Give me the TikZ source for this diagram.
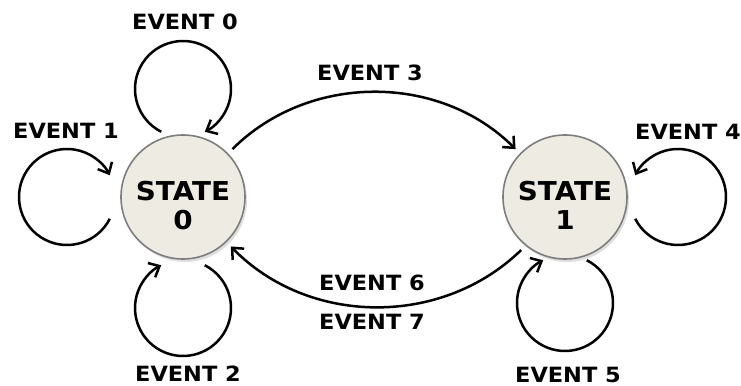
\documentclass[tikz,border=0pt]{standalone}
\usepackage{fontspec}
\setmainfont{DejaVu Sans}
\newfontfamily\ancha[FakeStretch=1.07]{DejaVu Sans}
\usepackage{tikz}
\usetikzlibrary{positioning, arrows.meta, calc, shadows}

\definecolor{relleno}{RGB}{238,235,227}
\definecolor{borde}{RGB}{125,125,125}

% texto del estado, algo mas abajo del centro
\newcommand{\txtestado}[1]{\raisebox{-6pt}[\height][\depth]{%
    \begin{tabular}{@{}c@{}}STATE\\#1\end{tabular}}}

\begin{document}
\begin{tikzpicture}[x=0.5pt, y=0.5pt,
    >={Straight Barb[length=4.5pt, width=8pt]},
    estado/.style={circle, draw=borde, line width=0.8pt, fill=relleno,
        minimum size=62pt, inner sep=0pt,
        font=\fontsize{13}{14.5}\selectfont\ancha\bfseries,
        drop shadow={opacity=0.25, shadow xshift=1pt, shadow yshift=-1.5pt}},
    evento/.style={font=\fontsize{10.5}{12}\selectfont\ancha\bfseries},
    linea/.style={line width=1.25pt, ->}]
    \useasboundingbox (0,0) rectangle (741,386);
    % Estados
    \node[estado] (s0) at (183,189) {\txtestado{0}};
    \node[estado] (s1) at (565,189) {\txtestado{1}};
    % Bucles
    \draw[linea] ($(s0)+(90:108)+(243:48)$) arc[start angle=243, end angle=-63, radius=48];
    \draw[linea] ($(s0)+(180:116)+(333:48)$) arc[start angle=333, end angle=27, radius=48];
    \draw[linea] ($(s0)+(270:111)+(63:48)$) arc[start angle=63, end angle=-243, radius=48];
    \draw[linea] ($(s1)+(0:113)+(207:48)$) arc[start angle=207, end angle=513, radius=48];
    \draw[linea] ($(s1)+(270:106)+(63:48)$) arc[start angle=63, end angle=-243, radius=48];
    % Transiciones
    \draw[linea, shorten <=3pt, shorten >=3pt] (s0.44) to[bend left=45] (s1.136);
    \draw[linea, shorten <=3pt, shorten >=3pt] (s1.231) to[bend left=45] (s0.314);
    % Etiquetas
    \node[evento] (e0) at (185,364) {EVENT 0};
    \node[evento] (e1) at (66,255) {EVENT 1};
    \node[evento] (e2) at (188,12) {EVENT 2};
    \node[evento] (e3) at (370,313) {EVENT 3};
    \node[evento] (e4) at (688,254) {EVENT 4};
    \node[evento] (e5) at (568,11) {EVENT 5};
    \node[evento] (e6) at (372,103) {EVENT 6};
    \node[evento] (e7) at (372,64) {EVENT 7};
\end{tikzpicture}
\end{document}
